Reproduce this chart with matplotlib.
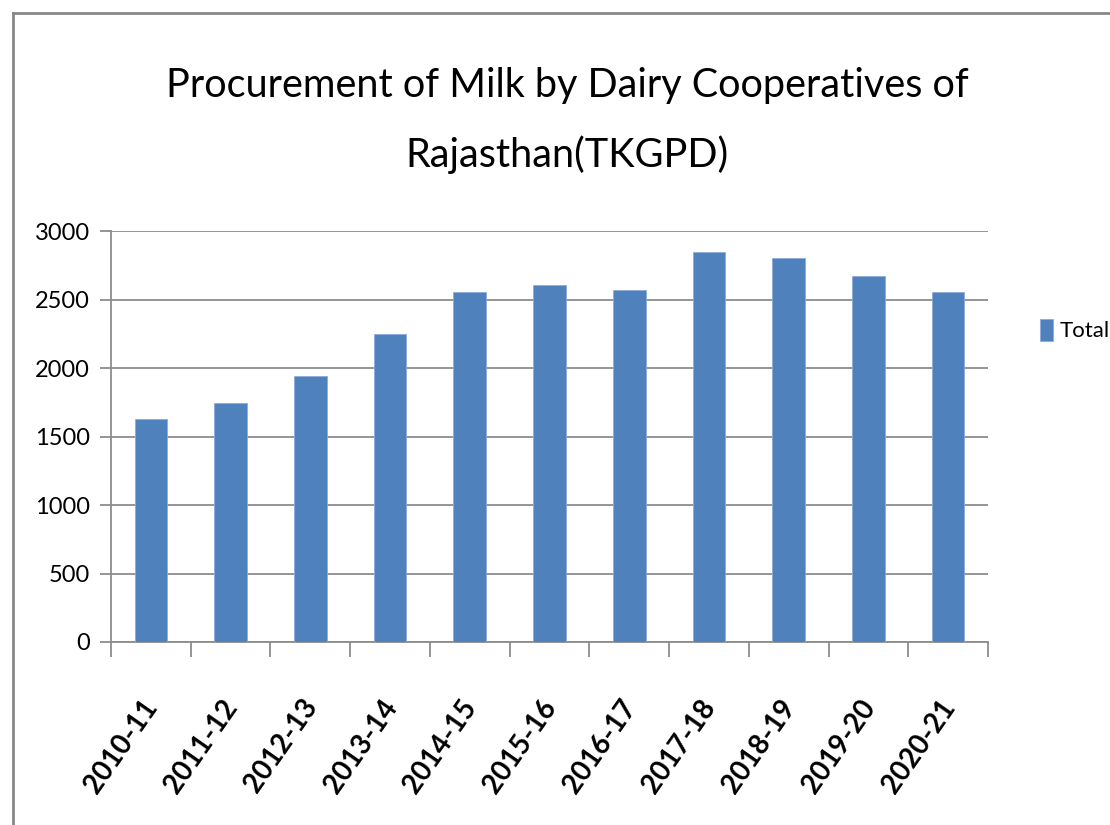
import matplotlib.pyplot as plt
import matplotlib.transforms as mtransforms
from matplotlib.lines import Line2D
import numpy as np

years = ['2010-11', '2011-12', '2012-13', '2013-14', '2014-15', '2015-16',
         '2016-17', '2017-18', '2018-19', '2019-20', '2020-21']
total = [1625, 1745, 1940, 2245, 2555, 2605, 2570, 2850, 2800, 2670, 2555]
yticks = [0, 500, 1000, 1500, 2000, 2500, 3000]

barColor = '#4F81BD'
gridColor = '#8C8C8C'
plt.rcParams['font.family'] = ['Lato', 'DejaVu Sans']

fig = plt.figure(figsize=(11.1, 8.25), dpi=100)
ax = fig.add_axes([111 / 1110, 1 - 642 / 825, (988 - 111) / 1110, (642 - 231) / 825])

x = np.arange(len(years))
ax.bar(x, total, width=0.41, color=barColor, edgecolor='#8EAADB', linewidth=0.6,
       label='Total', zorder=3)

ax.set_xlim(-0.5, len(years) - 0.5)
ax.set_ylim(0, 3000)
ax.set_yticks(yticks)
ax.yaxis.grid(True, color=gridColor, linewidth=1.3, zorder=0)
ax.tick_params(axis='y', length=8, width=1.3, color=gridColor, pad=7, labelsize=17)

# category labels in the middle, tick marks between the categories
ax.set_xticks(x)
ax.set_xticklabels(years, rotation=55, ha='right', va='top', fontsize=20, fontweight='bold')
ax.tick_params(axis='x', which='major', length=0, pad=38)
ax.set_xticks(np.arange(-0.5, len(years)), minor=True)
ax.tick_params(axis='x', which='minor', length=11, width=1.3, color=gridColor)

# nudge the slanted labels so their ends sit under the bars
shift = mtransforms.ScaledTranslation(12 / 100, 0, fig.dpi_scale_trans)
for lbl in ax.get_xticklabels():
    lbl.set_transform(lbl.get_transform() + shift)

for side in ['top', 'right']:
    ax.spines[side].set_visible(False)
for side in ['left', 'bottom']:
    ax.spines[side].set_color(gridColor)
    ax.spines[side].set_linewidth(1.3)

fig.text(567 / 1110, 1 - 97 / 825, 'Procurement of Milk by Dairy Cooperatives of',
         ha='center', va='baseline', fontsize=28.5)
fig.text(567 / 1110, 1 - 167 / 825, 'Rajasthan(TKGPD)',
         ha='center', va='baseline', fontsize=28.5)

ax.legend(loc='center left', bbox_to_anchor=(1029 / 1110, 1 - 330 / 825),
          bbox_transform=fig.transFigure, frameon=False, fontsize=16,
          handlelength=0.6, handleheight=1.2, handletextpad=0.3, borderpad=0)

# chart border
fig.add_artist(Line2D([13 / 1110, 13 / 1110], [0, 1 - 13 / 825], color='#888888', linewidth=2))
fig.add_artist(Line2D([13 / 1110, 1], [1 - 13 / 825, 1 - 13 / 825], color='#888888', linewidth=2))

fig.savefig('out.png', dpi=100)
